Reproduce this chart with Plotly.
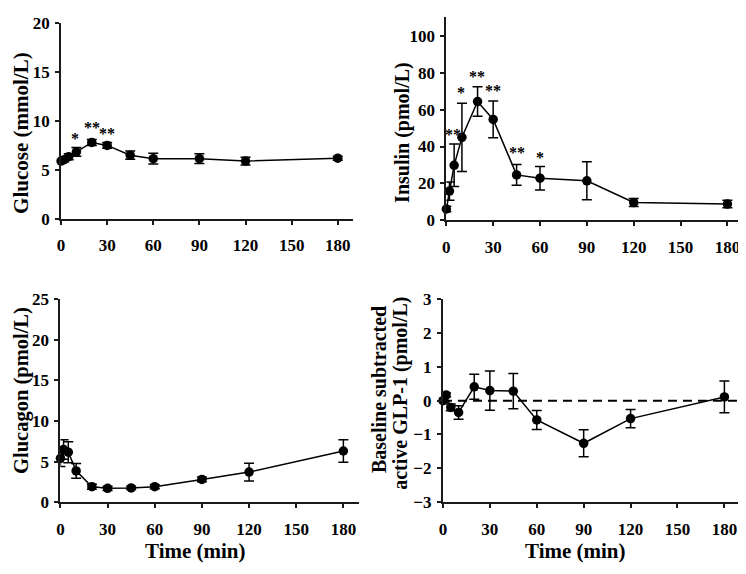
import plotly.graph_objects as go

# The page body has an 8px margin, so the figure is drawn 8px in from the window corner.
OFF = 8
W, H = 746 - OFF, 574 - OFF

time = [0, 2, 5, 10, 20, 30, 45, 60, 90, 120, 180]
time_ticks = [0, 30, 60, 90, 120, 150, 180]

glucose = [5.9, 6.05, 6.35, 6.85, 7.8, 7.5, 6.5, 6.15, 6.15, 5.9, 6.2]
glucose_err = [0.2, 0.25, 0.3, 0.45, 0.3, 0.3, 0.42, 0.55, 0.5, 0.4, 0.2]

insulin = [6.1, 15.8, 29.8, 45.0, 64.4, 54.7, 24.6, 22.8, 21.4, 9.6, 8.8]
insulin_err = [1.5, 5.0, 11.5, 18.5, 8.0, 10.0, 5.6, 6.4, 10.3, 2.2, 2.0]

glucagon = [5.4, 6.5, 6.15, 3.85, 1.9, 1.7, 1.75, 1.9, 2.8, 3.7, 6.3]
glucagon_err = [1.0, 1.2, 1.3, 0.9, 0.3, 0.25, 0.2, 0.25, 0.3, 1.1, 1.4]

glp1 = [0.0, 0.17, -0.2, -0.35, 0.41, 0.3, 0.28, -0.57, -1.26, -0.53, 0.11]
glp1_err = [0.05, 0.06, 0.1, 0.2, 0.37, 0.58, 0.52, 0.28, 0.4, 0.27, 0.47]

glucose_stars_x = [9.2, 19.9, 30.0]
glucose_stars_y = [8.5, 9.6, 9.0]
glucose_stars = ["*", "**", "**"]

insulin_stars_x = [4.2, 9.6, 19.7, 30.1, 45.2, 59.9]
insulin_stars_y = [48.2, 71.0, 79.8, 71.9, 38.2, 35.6]
insulin_stars = ["**", "*", "**", "**", "**", "*"]

FONT = "Liberation Serif"


def px_x(p):
    return (p - OFF) / W


def px_y(p):
    return 1 - (p - OFF) / H


panels = [
    dict(x0=57.3, x1=351, y0=14, y1=217, yr=[0, 20], yt=[0, 5, 10, 15, 20]),
    dict(x0=444.7, x1=743, y0=8.5, y1=218.3, yr=[0, 110], yt=[0, 20, 40, 60, 80, 100]),
    dict(x0=56.7, x1=357, y0=300, y1=510, yr=[0, 25], yt=[0, 5, 10, 15, 20, 25]),
    dict(x0=441.3, x1=740, y0=300, y1=510, yr=[-3, 3], yt=[-3, -2, -1, 0, 1, 2, 3]),
]
series = [(glucose, glucose_err), (insulin, insulin_err), (glucagon, glucagon_err), (glp1, glp1_err)]

fig = go.Figure()
layout = {}
for i, (p, (vals, errs)) in enumerate(zip(panels, series), start=1):
    sx = "" if i == 1 else str(i)
    layout["xaxis" + sx] = dict(
        domain=[px_x(p["x0"]), px_x(p["x1"])], range=[0, 190],
        tickvals=time_ticks, anchor="y" + sx,
    )
    layout["yaxis" + sx] = dict(
        domain=[px_y(p["y1"]), px_y(p["y0"])], range=p["yr"],
        tickvals=p["yt"], anchor="x" + sx,
    )
    if i == 4:
        fig.add_trace(go.Scatter(
            x=[0, 190], y=[0, 0], mode="lines", xaxis="x4", yaxis="y4",
            line=dict(color="black", width=2, dash="9px,6px"), showlegend=False,
            cliponaxis=False, hoverinfo="skip",
        ))
    fig.add_trace(go.Scatter(
        x=time, y=vals, mode="lines+markers",
        xaxis="x" + sx, yaxis="y" + sx,
        line=dict(color="black", width=1.5),
        marker=dict(color="black", size=9.5, symbol="circle"),
        error_y=dict(type="data", array=errs, visible=True, color="black", thickness=1.5, width=5),
        cliponaxis=False, showlegend=False,
    ))

annotations = []
star_font = dict(family=FONT, size=16, color="black", weight="bold")
for x, y, t in zip(glucose_stars_x, glucose_stars_y, glucose_stars):
    annotations.append(dict(x=x, y=y, xref="x", yref="y", text=t, showarrow=False,
                            font=star_font, yanchor="middle", yshift=-3))
for x, y, t in zip(insulin_stars_x, insulin_stars_y, insulin_stars):
    annotations.append(dict(x=x, y=y, xref="x2", yref="y2", text=t, showarrow=False,
                            font=star_font, yanchor="middle", yshift=-3))

titles = [
    ("Glucose (mmol/L)", 17, 128, 21, 90),
    ("Insulin (pmol/L)", 400, 127, 20, 90),
    ("Glucagon (pmol/L)", 17, 394, 20.5, 90),
    ("Baseline subtracted", 377, 394, 20, 90),
    ("active GLP-1 (pmol/L)", 399, 397, 20, 90),
    ("Time (min)", 193, 561, 21, 0),
    ("Time (min)", 575, 561, 21, 0),
]
for text, cx, cy, size, rot in titles:
    annotations.append(dict(
        x=px_x(cx), y=px_y(cy), xref="paper", yref="paper", text=text,
        showarrow=False, textangle=-rot, xanchor="center", yanchor="middle",
        font=dict(family=FONT, size=size, color="black", weight="bold"),
    ))

fig.update_layout(
    width=W, height=H,
    margin=dict(l=0, r=0, t=0, b=0),
    paper_bgcolor="white", plot_bgcolor="white",
    annotations=annotations,
    **layout,
)
axis_style = dict(
    showline=True, linecolor="#1a1a1a", linewidth=2,
    ticks="outside", ticklen=4, tickwidth=1.5, tickcolor="#1a1a1a",
    showgrid=False, zeroline=False,
    tickfont=dict(family=FONT, size=17, color="black", weight="bold"),
)
fig.update_xaxes(**axis_style, ticklabelstandoff=6)
fig.update_yaxes(**axis_style, ticklabelstandoff=2)

fig.write_html("out.html")
